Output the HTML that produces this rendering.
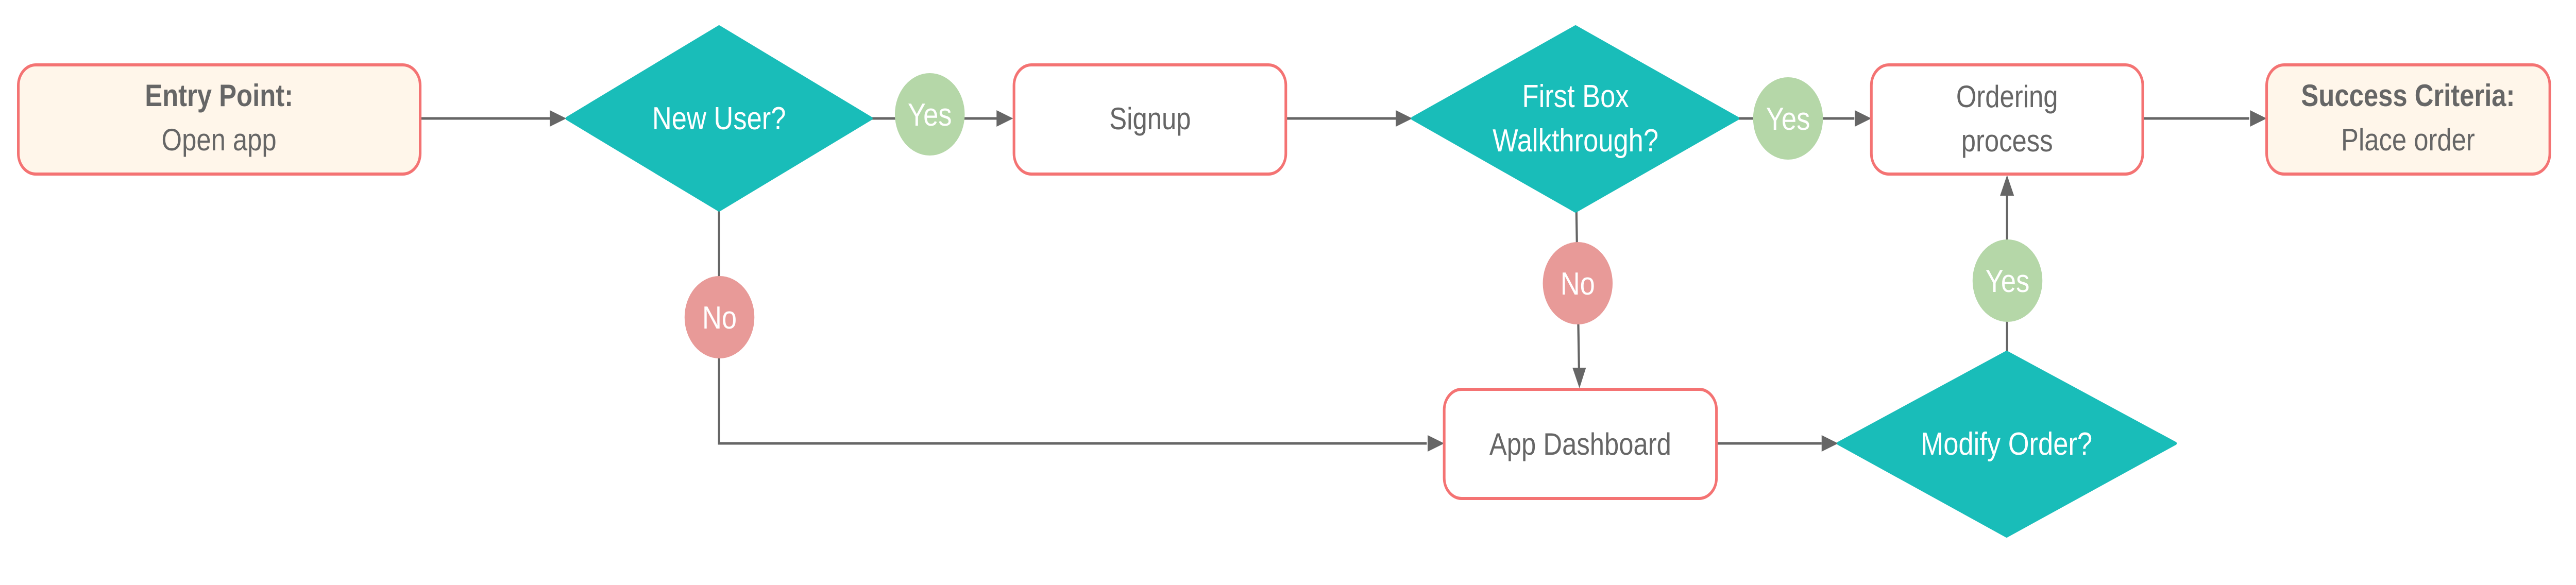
<!DOCTYPE html>
<html><head><meta charset="utf-8"><style>
html,body{margin:0;padding:0;background:#fff;overflow:hidden;width:100%;height:100%;}
svg{display:block;width:100vw;height:100vh;}
text{font-family:"Liberation Sans",sans-serif;}
</style></head><body>
<svg viewBox="0 0 5904 1136" preserveAspectRatio="none" xmlns="http://www.w3.org/2000/svg">
<g stroke="#666" stroke-width="5" fill="none">
<line x1="964" y1="230" x2="1260" y2="230"/>
<line x1="1998" y1="230" x2="2285" y2="230"/>
<line x1="2948" y1="230" x2="3200" y2="230"/>
<line x1="3984" y1="230" x2="4250" y2="230"/>
<line x1="4912" y1="230" x2="5155" y2="230"/>
<polyline points="1648,409 1648,861 3270,861"/>
<line x1="3613" y1="411" x2="3619" y2="715"/>
<line x1="3935" y1="861" x2="4175" y2="861"/>
<line x1="4600" y1="683" x2="4600" y2="378"/>
</g>
<g fill="#666">
<polygon points="1298,230 1260,214 1260,246"/>
<polygon points="2322,230 2284,214 2284,246"/>
<polygon points="3237,230 3199,214 3199,246"/>
<polygon points="4289,230 4251,214 4251,246"/>
<polygon points="5195,230 5157,214 5157,246"/>
<polygon points="3310,861 3272,845 3272,877"/>
<polygon points="3620,754 3604,714 3635,714"/>
<polygon points="4213,861 4175,845 4175,877"/>
<polygon points="4600,340 4584,380 4616,380"/>
</g>
<g stroke="#f47373" stroke-width="6">
<rect x="42" y="126" width="921" height="212" rx="40" fill="#fff6ea"/>
<rect x="2324" y="126" width="623" height="212" rx="40" fill="#fff"/>
<rect x="4289" y="126" width="622" height="212" rx="40" fill="#fff"/>
<rect x="5195" y="126" width="649" height="212" rx="40" fill="#fff6ea"/>
<rect x="3310" y="756" width="624" height="212" rx="40" fill="#fff"/>
</g>
<g fill="#19bdb9" stroke="#19bdb9" stroke-width="6" stroke-linejoin="round">
<polygon points="1648,52 1997,230 1648,408 1299,230"/>
<polygon points="3611,52 3983,230 3611,410 3237,230"/>
<polygon points="4599,684 4986,861 4599,1041 4213,861"/>
</g>
<circle cx="2131" cy="222" r="80" fill="#b5d7a8"/>
<circle cx="4098" cy="230" r="80" fill="#b5d7a8"/>
<circle cx="4601" cy="545" r="80" fill="#b5d7a8"/>
<circle cx="1649" cy="616" r="80" fill="#e89a98"/>
<circle cx="3616" cy="550" r="80" fill="#e89a98"/>
<g font-size="62" fill="#fff" text-anchor="middle">
<text x="2131" y="244">Yes</text>
<text x="4098" y="252">Yes</text>
<text x="4601" y="567">Yes</text>
<text x="1649" y="638">No</text>
<text x="3616" y="572">No</text>
<text x="1648" y="251">New User?</text>
<text x="3611" y="208">First Box</text>
<text x="3611" y="294">Walkthrough?</text>
<text x="4599" y="883">Modify Order?</text>
</g>
<g font-size="60" fill="#666" text-anchor="middle">
<text x="502" y="206" font-weight="bold">Entry Point:</text>
<text x="502" y="292">Open app</text>
<text x="2636" y="251">Signup</text>
<text x="4600" y="208">Ordering</text>
<text x="4600" y="294">process</text>
<text x="5519" y="206" font-weight="bold">Success Criteria:</text>
<text x="5519" y="292">Place order</text>
<text x="3622" y="883">App Dashboard</text>
</g>
</svg>
</body></html>
